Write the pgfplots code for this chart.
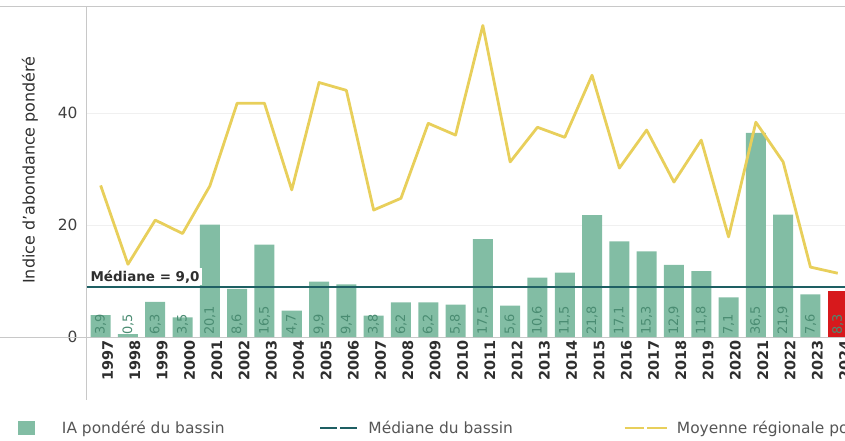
\documentclass[border=0pt]{standalone}
\usepackage{fontspec}
\setmainfont{DejaVu Sans}
\usepackage{pgfplots}
\pgfplotsset{compat=1.18}
\usepackage{pgfplotstable}

\definecolor{barcol}{HTML}{82BDA4}
\definecolor{labcol}{HTML}{4A8C72}
\definecolor{redcol}{HTML}{D7191C}
\definecolor{medcol}{HTML}{1E5F63}
\definecolor{yelcol}{HTML}{E8CF5B}
\definecolor{axcol}{HTML}{C8C8C8}
\definecolor{gridcol}{HTML}{F0F0F0}
\definecolor{yearcol}{HTML}{2E2E2E}
\definecolor{tickcol}{HTML}{404040}
\definecolor{legtext}{HTML}{555555}

% IA pondere du bassin (val) and moyenne regionale (reg)
\pgfplotstableread{
year val  reg
1997 3.9  27.1
1998 0.5  13.0
1999 6.3  20.9
2000 3.5  18.5
2001 20.1 27.0
2002 8.6  41.8
2003 16.5 41.8
2004 4.7  26.3
2005 9.9  45.5
2006 9.4  44.1
2007 3.8  22.7
2008 6.2  24.8
2009 6.2  38.2
2010 5.8  36.1
2011 17.5 55.7
2012 5.6  31.3
2013 10.6 37.5
2014 11.5 35.7
2015 21.8 46.8
2016 17.1 30.2
2017 15.3 37.0
2018 12.9 27.7
2019 11.8 35.2
2020 7.1  17.9
2021 36.5 38.4
2022 21.9 31.3
2023 7.6  12.5
2024 8.3  11.4
}\datatable

\begin{document}
\begin{tikzpicture}
\begin{axis}[
  scale only axis, width=764.4bp, height=330bp,
  xmin=1996.5, xmax=2024.5, ymin=0, ymax=59,
  clip=false,
  axis line style={draw=none},
  tick style={draw=none}, major tick length=0pt,
  xtick={1997,...,2024},
  ytick={0,20,40},
  ymajorgrids, grid style={color=gridcol, line width=0.8bp},
  /pgf/number format/assume math mode=true,
  xticklabel style={rotate=90, anchor=east, yshift=-7bp,
    font=\bfseries\fontsize{14.5}{14.5}\selectfont, text=yearcol,
    /pgf/number format/1000 sep={}},
  yticklabel style={font=\fontsize{15.5}{15.5}\selectfont, text=tickcol, xshift=-6bp},
  ylabel={Indice d'abondance pondéré},
  ylabel style={at={(rel axis cs:-0.0746,0.506)}, anchor=center, rotate=0,
    font=\fontsize{16}{16}\selectfont, text=yearcol},
  legend columns=3,
  legend style={at={(rel axis cs:-0.0903,-0.2758)}, anchor=west,
    draw=none, fill=none, inner sep=0pt, outer sep=0pt, column sep=0pt,
    font=\fontsize{15.5}{15.5}\selectfont, text=legtext,
    /tikz/column 1/.style={column sep=25bp},
    /tikz/column 2/.style={column sep=55bp},
    /tikz/column 3/.style={column sep=8bp},
    /tikz/column 4/.style={column sep=53bp},
    /tikz/column 5/.style={column sep=7bp}},
]
% frame lines
\draw[axcol, line width=1bp] (rel axis cs:-0.1138,0) -- (rel axis cs:1.02,0);
\draw[axcol, line width=1bp] (rel axis cs:-0.1138,1) -- (rel axis cs:1.02,1);
\draw[axcol, line width=1bp] (rel axis cs:0,1) -- (rel axis cs:0,-0.19);

\addplot[ybar, bar width=20bp, bar shift=0pt, fill=barcol, draw=none,
  restrict x to domain=1996:2023.5,
  legend image code/.code={\fill[barcol] (0bp,-7bp) rectangle (17bp,7bp);}]
  table[x=year, y=val] {\datatable};
\addlegendentry{\makebox[200bp][l]{IA pondéré du bassin}}

\addplot[ybar, bar width=20bp, bar shift=0pt, fill=redcol, draw=none, forget plot,
  restrict x to domain=2023.5:2025]
  table[x=year, y=val] {\datatable};

\addplot[medcol, line width=2.2bp, mark=none,
  legend image code/.code={\draw[medcol, line width=2.5bp] (0bp,0bp) -- (17bp,0bp) (20bp,0bp) -- (37bp,0bp);}]
  coordinates {(1996.5,9.0) (2024.5,9.0)};
\addlegendentry{\makebox[200bp][l]{Médiane du bassin}}

\addplot[yelcol, line width=2.8bp, mark=none, line join=round,
  legend image code/.code={\draw[yelcol, line width=2.5bp] (0bp,0bp) -- (19.5bp,0bp) (22.5bp,0bp) -- (42bp,0bp);}]
  table[x=year, y=reg] {\datatable};
\addlegendentry{\makebox[200bp][l]{Moyenne régionale pondérée}}

\addplot[forget plot, draw=none, mark=none, point meta=explicit,
  nodes near coords={\pgfmathprintnumber[use comma,fixed,fixed zerofill,precision=1]{\pgfplotspointmeta}},
  nodes near coords align={anchor=west},
  every node near coord/.append style={rotate=90, anchor=west, inner sep=2bp,
    font=\fontsize{13}{13}\selectfont, text=labcol}]
  table[x=year, y expr=0, meta=val] {\datatable};

\node[fill=white, inner sep=2bp, anchor=south west, text=yearcol,
  font=\bfseries\fontsize{13.5}{13.5}\selectfont] at (axis cs:1996.55,9.25) {Médiane = 9,0};
\end{axis}
\pgfresetboundingbox
\path[use as bounding box] (-87bp,-104bp) rectangle (758bp,337bp);
\end{tikzpicture}
\end{document}
